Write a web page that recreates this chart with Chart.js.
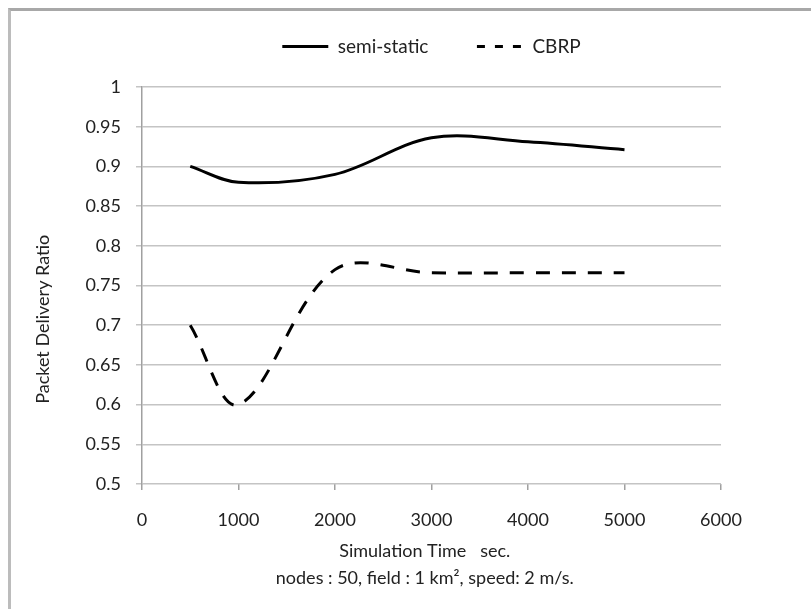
<!DOCTYPE html>
<html>
<head>
<meta charset="utf-8">
<script src="https://cdn.jsdelivr.net/npm/chart.js@4.4.1/dist/chart.umd.min.js"></script>
<style>
html, body { margin: 0; padding: 0; background: #fff; }
#wrap { position: relative; width: 811px; height: 609px; }
#frame { position: absolute; left: 8px; top: 8px; right: 0; bottom: 0; border-top: 3px solid #a8a8a8; border-left: 3px solid #bcbcbc; pointer-events: none; }
</style>
</head>
<body>
<div id="wrap"><canvas id="pdrChart"></canvas><div id="frame"></div></div>
<script>
const simTime = [500, 1000, 2000, 3000, 4000, 5000];
const semiStatic = [0.900, 0.880, 0.890, 0.936, 0.931, 0.921];
const cbrp = [0.700, 0.600, 0.770, 0.766, 0.766, 0.766];
const seriesNames = ['semi-static', 'CBRP'];
const yTitle = 'Packet Delivery Ratio';
const xTitle = ['Simulation Time   sec.', 'nodes : 50, field : 1 km\u00b2, speed: 2 m/s.'];

Chart.defaults.font.family = 'Lato, "Open Sans", sans-serif';
Chart.defaults.font.size = 18;
Chart.defaults.color = '#222';

// extra room under the legend without moving its text
const legendGap = {
    id: 'legendGap',
    beforeInit(chart) {
        const fit = chart.legend.fit;
        chart.legend.fit = function () { fit.bind(chart.legend)(); this.height += 21; };
    }
};

const toPoints = ys => simTime.map((x, i) => ({ x, y: ys[i] }));
const ctx = document.getElementById('pdrChart').getContext('2d');

new Chart(ctx, {
    type: 'line',
    data: {
        datasets: [
            {
                label: seriesNames[0],
                data: toPoints(semiStatic),
                borderColor: '#000',
                backgroundColor: '#000',
                borderWidth: 3,
                pointRadius: 0,
                tension: 0.35,
                fill: false
            },
            {
                label: seriesNames[1],
                data: toPoints(cbrp),
                borderColor: '#000',
                backgroundColor: '#000',
                borderWidth: 3,
                borderDash: [14, 12],
                pointRadius: 0,
                tension: 0.35,
                fill: false
            }
        ]
    },
    options: {
        responsive: true,
        maintainAspectRatio: false,
        animation: false,
        layout: { padding: { top: 17, left: 32, right: 90, bottom: 10 } },
        plugins: {
            tooltip: { enabled: false },
            legend: {
                position: 'top',
                fullSize: false,
                labels: {
                    usePointStyle: true,
                    pointStyle: 'line',
                    pointStyleWidth: 46,
                    padding: 20,
                    color: '#222',
                    font: { size: 19 },
                    generateLabels(chart) {
                        const items = Chart.defaults.plugins.legend.labels.generateLabels(chart);
                        return items.map((it, i) => {
                            it.lineDash = i === 1 ? [8, 10] : [];
                            if (i === 0) it.text = it.text + '\u2003\u2003';
                            return it;
                        });
                    }
                }
            }
        },
        scales: {
            x: {
                type: 'linear',
                min: 0,
                max: 6000,
                afterFit(scale) { scale.height = 115; },
                ticks: { stepSize: 1000, padding: 19, callback: v => String(v) },
                grid: { drawOnChartArea: false, drawTicks: true, tickLength: 6, color: '#a0a0a0', lineWidth: 1.5 },
                border: { display: false },
                title: {
                    display: true,
                    text: xTitle.map(t => t + '\u2003'),
                    font: { size: 18, lineHeight: 1.5 },
                    padding: { top: 7, bottom: 7.5 }
                }
            },
            y: {
                min: 0.5,
                max: 1,
                afterFit(scale) { scale.width = 110; },
                ticks: { stepSize: 0.05, padding: 15, callback: v => String(+v.toFixed(2)) },
                grid: { color: '#c4c4c4', lineWidth: 1.5, tickLength: 6 },
                border: { color: '#a0a0a0', width: 1.5 },
                title: {
                    display: true,
                    text: yTitle + '\u2003\u2003\u2003\u2003\u2003',
                    padding: { top: 0, bottom: 0 }
                }
            }
        }
    },
    plugins: [legendGap]
});
</script>
</body>
</html>
